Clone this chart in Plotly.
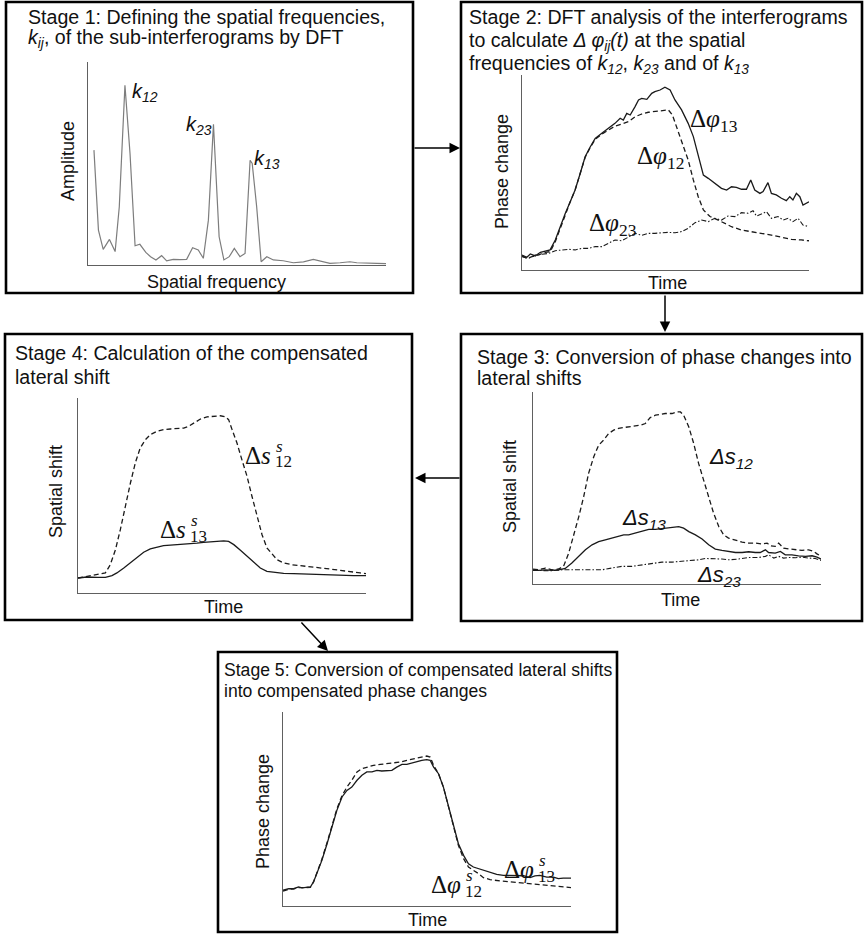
import plotly.graph_objects as go

W, H = 864, 934


def X(p):
    return p / W


def Y(p):
    return 1 - p / H


# ---------------- data ----------------
# Stage 1: DFT amplitude spectrum
freq = [2.0, 3.5, 5.1, 7.2, 9.1, 10.5, 12.4, 14.1, 15.8, 17.4, 19.4, 21.0, 22.8, 24.7, 26.4,
        28.6, 30.9, 33.1, 35.1, 37.0, 38.7, 40.4, 42.1, 44.0, 45.6, 47.4, 49.1, 51.0, 52.7,
        54.4, 55.1, 56.6, 58.1, 60.0, 62.2, 65.5, 68.9, 72.3, 75.6, 77.9, 81.2, 84.6, 87.9,
        90.2, 93.5, 96.9, 100.0]
amplitude = [56.6, 17.2, 7.7, 12.6, 6.6, 28.7, 88.5, 54.9, 9.5, 10.2, 6.2, 4.1, 2.5, 4.6, 2.0,
             2.8, 2.6, 2.8, 8.5, 7.4, 3.3, 22.1, 69.3, 13.9, 2.5, 4.1, 8.2, 4.1, 5.7,
             51.6, 50.0, 28.7, 1.6, 4.1, 2.5, 2.1, 1.1, 1.5, 2.8, 2.0, 0.8, 1.1, 1.6,
             1.1, 1.1, 0.8, 0.7]

# Stage 2: phase changes
t2_13 = [0, 1.7, 2.9, 4.6, 6.4, 8.1, 9.8, 11.6, 13.3, 15.1, 16.8, 18.5, 20.3, 22.0, 23.8, 25.5,
         27.8, 30.1, 32.4, 34.2, 35.3, 36.5, 37.7, 39.4, 40.6, 41.7, 43.5, 45.2, 46.3, 48.1,
         49.8, 51.6, 53.3, 55.6, 57.9, 59.7, 61.4, 63.2, 64.9, 67.2, 69.5, 71.3, 73.0, 74.7,
         76.5, 78.2, 79.7, 81.1, 82.9, 84.0, 85.7, 86.9, 88.6, 90.4, 92.1, 93.3, 94.4, 95.6,
         96.8, 97.9, 99.1, 100]
phi13 = [7.7, 6.5, 8.2, 7.2, 9.1, 9.9, 10.3, 15.4, 22.2, 29.1, 35.0, 41.0, 49.6, 58.1, 63.2, 67.5,
         70.1, 72.6, 75.2, 77.8, 76.9, 80.3, 79.5, 83.8, 87.2, 88.0, 87.5, 90.6, 91.5, 92.3,
         93.7, 92.3, 87.2, 82.1, 75.2, 68.4, 58.1, 48.7, 47.0, 44.4, 41.9, 41.0, 42.7, 42.4,
         41.4, 41.4, 46.2, 41.0, 39.3, 40.2, 44.8, 39.3, 38.5, 36.8, 35.6, 37.6, 35.9, 39.3,
         37.6, 33.3, 34.2, 35.0]
t2_12 = [0, 1.7, 3.5, 5.8, 8.1, 9.8, 11.6, 13.3, 15.1, 16.8, 18.5, 20.3, 22.0, 23.8, 25.5, 27.8,
         30.1, 32.4, 34.8, 37.1, 39.4, 41.7, 44.0, 46.3, 48.7, 51.0, 52.4, 53.9, 55.6, 57.9,
         59.7, 61.4, 63.2, 65.5, 67.8, 69.5, 73.0, 76.5, 80.0, 83.4, 86.9, 90.4, 93.9, 97.3, 100]
phi12 = [7.2, 6.0, 6.8, 7.7, 9.1, 9.4, 14.5, 21.4, 28.2, 35.0, 41.0, 49.6, 57.8, 62.9, 67.0, 69.7,
         71.8, 73.8, 74.9, 76.1, 78.6, 80.0, 80.9, 81.4, 81.9, 82.1, 79.5, 73.5, 66.7, 56.4,
         46.2, 37.6, 30.8, 27.4, 26.0, 24.8, 22.2, 20.5, 19.7, 18.8, 17.9, 16.8, 15.7, 15.4, 15.0]
t2_23 = [0, 2.3, 4.6, 7.0, 9.3, 11.6, 13.9, 16.2, 18.5, 20.9, 23.2, 25.5, 27.8, 30.1, 32.4, 34.8,
         37.1, 39.4, 41.7, 44.0, 46.3, 48.7, 51.0, 53.3, 55.6, 57.9, 60.3, 62.6, 64.9, 67.2,
         69.5, 71.8, 74.2, 76.5, 78.8, 80.5, 81.7, 83.4, 85.2, 86.9, 89.2, 91.0, 92.7, 94.4,
         96.2, 97.9, 100]
phi23 = [6.8, 6.0, 7.7, 8.2, 8.5, 9.9, 10.3, 10.6, 10.3, 11.1, 11.1, 12.0, 12.0, 13.7, 15.4, 15.0,
         17.1, 18.8, 17.8, 18.8, 18.8, 19.1, 19.3, 19.1, 19.7, 21.4, 24.3, 25.6, 24.8, 26.5,
         25.6, 27.7, 27.4, 29.4, 29.1, 30.4, 27.7, 28.7, 29.9, 26.5, 27.4, 25.6, 26.5, 24.8,
         26.5, 23.1, 22.2]

# Stage 3: lateral shifts
t3_12 = [0, 2.0, 4.3, 6.6, 8.9, 10.6, 12.4, 14.1, 15.9, 17.6, 19.3, 21.1, 22.8, 24.5, 26.3, 28.0,
         29.7, 31.5, 33.2, 35.5, 37.3, 39.0, 40.7, 42.5, 44.2, 45.9, 48.3, 50.0, 51.2, 52.3,
         54.1, 55.8, 57.5, 59.3, 61.0, 62.7, 64.5, 66.2, 67.9, 70.3, 72.6, 74.9, 77.2, 79.5,
         81.3, 82.4, 84.1, 85.3, 87.0, 88.8, 91.1, 93.4, 95.7, 97.5, 98.6, 100]
s12 = [7.8, 7.4, 8.3, 7.4, 7.8, 9.2, 16.1, 24.7, 35.1, 45.5, 57.6, 66.3, 72.3, 74.9, 78.4, 80.1,
       81.0, 81.5, 81.8, 82.2, 82.7, 83.6, 86.7, 87.9, 88.4, 88.8, 88.8, 89.6, 89.6, 87.9,
       81.8, 73.2, 62.8, 54.2, 45.5, 36.9, 29.9, 25.6, 23.9, 22.7, 21.8, 21.3, 21.3, 20.8,
       21.3, 19.9, 19.6, 21.3, 18.7, 18.3, 17.8, 17.5, 17.8, 17.0, 15.7, 14.4]
t3_13 = [0, 2.0, 4.3, 6.6, 8.9, 11.2, 13.5, 15.9, 18.2, 20.5, 22.8, 25.1, 27.4, 29.7, 31.5, 33.2,
         35.5, 37.8, 40.2, 42.5, 44.8, 47.1, 49.4, 50.6, 52.3, 54.1, 56.4, 58.7, 61.0, 63.3,
         65.6, 67.9, 70.3, 72.6, 74.9, 77.2, 78.9, 80.7, 81.8, 84.1, 85.9, 87.6, 89.9, 92.2,
         94.6, 96.9, 98.6, 100]
s13 = [7.4, 7.1, 7.4, 7.1, 7.4, 8.1, 10.9, 14.4, 17.8, 20.4, 22.1, 23.0, 23.9, 24.7, 25.6, 25.6,
       26.5, 27.3, 28.5, 28.5, 28.9, 29.4, 29.9, 29.9, 29.1, 27.3, 25.6, 23.4, 20.4, 18.2,
       17.5, 17.0, 16.4, 16.4, 16.8, 16.4, 16.4, 17.8, 16.4, 16.1, 17.0, 15.2, 15.2, 14.7,
       14.4, 14.7, 14.0, 13.0]
t3_23 = [0, 3.1, 6.6, 10.1, 13.5, 17.0, 20.5, 24.0, 27.4, 30.9, 34.4, 37.8, 41.3, 44.8, 48.3,
         51.7, 55.2, 57.5, 59.8, 63.3, 65.6, 67.9, 71.4, 74.9, 78.4, 80.7, 81.8, 83.6, 85.3,
         87.0, 88.8, 91.1, 93.4, 95.7, 98.0, 100]
s23 = [7.1, 7.1, 6.9, 7.4, 7.4, 7.1, 7.1, 7.4, 8.3, 9.2, 9.2, 10.0, 10.9, 11.4, 11.4,
       11.8, 12.1, 12.6, 13.3, 13.3, 13.0, 12.6, 13.0, 13.8, 13.8, 14.4, 15.2, 13.5, 14.4,
       13.5, 13.8, 13.7, 14.0, 13.5, 13.3, 12.3]

# Stage 4: compensated lateral shifts
t4_12 = [0, 3.1, 6.6, 9.5, 11.2, 13.0, 14.7, 16.4, 18.2, 19.9, 21.6, 23.4, 25.1, 27.4, 29.7,
         32.1, 34.4, 36.7, 38.4, 40.2, 42.5, 44.8, 47.1, 49.4, 51.2, 52.3, 53.5, 55.2, 56.9,
         58.7, 60.4, 62.2, 63.9, 65.6, 67.4, 69.1, 71.4, 74.3, 77.2, 80.7, 84.1, 87.6, 91.1,
         94.6, 98.0, 100]
ss12 = [7.7, 8.5, 9.4, 10.3, 14.5, 22.2, 32.5, 44.4, 56.4, 66.7, 74.4, 78.6, 81.2, 82.9, 83.8,
        84.1, 84.4, 84.6, 85.5, 87.2, 89.2, 90.3, 90.6, 90.9, 90.3, 88.9, 83.8, 76.9, 68.4,
        59.8, 49.6, 39.3, 29.9, 23.1, 19.7, 17.1, 15.4, 14.5, 14.0, 13.3, 12.8, 12.3, 11.6,
        11.1, 10.3, 9.9]
t4_13 = [0, 3.1, 6.6, 9.5, 11.8, 13.5, 15.9, 18.2, 20.5, 22.8, 25.1, 27.4, 29.7, 32.1, 34.4,
         36.7, 39.0, 41.3, 43.6, 45.9, 48.3, 50.6, 52.3, 54.1, 56.4, 58.7, 61.0, 63.3, 65.6,
         67.9, 71.4, 74.9, 78.4, 81.8, 85.3, 88.8, 92.2, 95.7, 100]
ss13 = [7.7, 8.2, 8.0, 8.0, 8.9, 10.3, 12.8, 15.4, 17.9, 20.9, 22.6, 23.6, 24.3, 24.6, 24.8,
        25.0, 25.1, 25.6, 26.0, 26.3, 26.5, 26.7, 26.5, 24.8, 21.9, 18.8, 15.4, 12.8, 11.1,
        10.6, 10.1, 9.9, 9.7, 9.7, 9.4, 9.2, 9.1, 8.9, 8.9]

# Stage 5: compensated phase changes
t5_13 = [0, 2.0, 3.7, 5.4, 6.6, 8.3, 9.5, 10.6, 11.8, 13.5, 15.3, 17.0, 18.7, 20.5, 22.2, 23.9,
         25.7, 27.4, 29.1, 30.9, 32.6, 34.3, 36.1, 37.8, 39.5, 41.3, 43.0, 44.7, 46.5, 48.2,
         49.9, 51.1, 52.3, 54.0, 55.7, 57.5, 59.2, 60.9, 62.7, 64.4, 66.1, 67.9, 69.6, 71.9,
         74.2, 76.5, 78.8, 81.2, 83.5, 85.8, 87.5, 89.2, 91.6, 93.9, 95.6, 97.3, 100]
ps13 = [8.1, 8.9, 8.9, 9.8, 9.3, 9.8, 9.8, 12.4, 16.7, 23.5, 32.1, 40.7, 49.3, 56.2, 59.6, 61.3,
        64.8, 67.4, 69.1, 69.1, 69.9, 69.6, 69.9, 69.9, 71.6, 73.0, 73.0, 73.7, 74.6, 75.1,
        75.4, 75.1, 71.6, 68.2, 61.3, 51.0, 40.7, 32.1, 26.1, 21.8, 20.1, 19.2, 18.4, 17.5,
        16.3, 15.8, 15.8, 15.6, 15.6, 14.6, 15.5, 15.8, 14.9, 14.9, 14.1, 14.4, 14.4]
t5_12 = [0, 2.0, 3.7, 5.4, 7.2, 9.5, 10.6, 11.8, 13.5, 15.3, 17.0, 18.7, 20.5, 22.2, 23.9, 25.7,
         27.4, 29.1, 31.4, 33.8, 36.1, 38.4, 40.7, 43.0, 45.3, 47.6, 49.9, 51.1, 52.3, 54.0,
         55.7, 57.5, 59.2, 60.9, 62.7, 64.4, 66.1, 67.9, 69.6, 71.9, 75.4, 78.8, 82.3, 85.8,
         89.2, 92.7, 96.2, 100]
ps12 = [7.7, 8.6, 8.8, 9.5, 9.5, 9.6, 12.4, 17.0, 24.1, 32.6, 41.4, 50.0, 56.9, 61.3, 64.8, 69.1,
        70.8, 71.6, 72.5, 73.0, 73.4, 73.7, 74.2, 75.1, 75.9, 76.8, 77.3, 76.8, 72.5, 68.2,
        61.3, 51.0, 40.7, 31.3, 24.4, 20.1, 18.4, 16.7, 14.6, 13.6, 12.9, 12.4, 11.9, 11.5,
        11.2, 10.7, 10.1, 9.5]

titles = {
    1: ["Stage 1: Defining the spatial frequencies,",
        "<i>k<sub>ij</sub></i>, of the sub-interferograms by DFT"],
    2: ["Stage 2: DFT analysis of the interferograms",
        "to calculate <i>Δ φ<sub>ij</sub>(t)</i> at the spatial",
        "frequencies of <i>k<sub>12</sub></i>, <i>k<sub>23</sub></i> and of <i>k<sub>13</sub></i>"],
    3: ["Stage 3: Conversion of phase changes into", "lateral shifts"],
    4: ["Stage 4: Calculation of the compensated", "lateral shift"],
    5: ["Stage 5: Conversion of compensated lateral shifts", "into compensated phase changes"],
}
y_titles = {1: "Amplitude", 2: "Phase change", 3: "Spatial shift", 4: "Spatial shift", 5: "Phase change"}
x_titles = {1: "Spatial frequency", 2: "Time", 3: "Time", 4: "Time", 5: "Time"}

# ---------------- layout geometry (pixels) ----------------
plots = {1: (88, 386, 62, 265), 2: (522, 809, 75, 270), 3: (533, 821, 392, 584),
         4: (78, 366, 398, 593), 5: (283, 571, 712, 906)}
boxes = {1: (6, 413, 2, 293), 2: (461, 862, 2, 293), 3: (461, 862, 334, 621),
         4: (5, 412, 334, 620), 5: (218, 617, 652, 932)}

SANS = "Liberation Sans, Arial, sans-serif"
SERIF = "Liberation Serif, Times New Roman, serif"
INK = "#111111"

fig = go.Figure()

axstyle = dict(showline=True, linecolor="#606060", linewidth=1, showgrid=False, zeroline=False,
               showticklabels=False, ticks="", fixedrange=True)
lay = {}
for i, (x0, x1, y0, y1) in plots.items():
    s = "" if i == 1 else str(i)
    lay["xaxis" + s] = dict(domain=[X(x0), X(x1)], range=[0, 100], anchor="y" + s, **axstyle)
    lay["yaxis" + s] = dict(domain=[Y(y1), Y(y0)], range=[0, 100], anchor="x" + s, **axstyle)


def add(x, y, ax, dash="solid", color="#1a1a1a", width=1.3):
    s = "" if ax == 1 else str(ax)
    fig.add_trace(go.Scatter(x=x, y=y, mode="lines", xaxis="x" + s, yaxis="y" + s,
                             line=dict(color=color, width=width, dash=dash),
                             hoverinfo="skip", showlegend=False))


DASH = "5px,3px"
DASHDOT = "5px,2px,1.5px,2px"

add(freq, amplitude, 1, color="#7d7d7d", width=1.2)
add(t2_12, phi12, 2, dash=DASH)
add(t2_23, phi23, 2, dash=DASHDOT, width=1.1)
add(t2_13, phi13, 2)
add(t3_12, s12, 3, dash=DASH)
add(t3_23, s23, 3, dash=DASHDOT, width=1.1)
add(t3_13, s13, 3)
add(t4_12, ss12, 4, dash=DASH)
add(t4_13, ss13, 4)
add(t5_12, ps12, 5, dash=DASH)
add(t5_13, ps13, 5)

ann = []


def txt(x, y, s, size=20, xanchor="left", family=SANS, angle=0, yanchor="middle"):
    ann.append(dict(x=X(x), y=Y(y), xref="paper", yref="paper", text=s, showarrow=False,
                    xanchor=xanchor, yanchor=yanchor, textangle=angle,
                    font=dict(family=family, size=size, color=INK)))


# titles
title_pos = {1: (26, [17, 39], 19.6), 2: (467, [17, 41, 65], 19.6), 3: (475, [357, 378], 19.6),
             4: (13, [353, 377], 19.6), 5: (222, [670, 691], 17.6)}
for i, lines in titles.items():
    x0, ys, fs = title_pos[i]
    for line, yy in zip(lines, ys):
        txt(x0, yy, line, size=fs)

# axis titles
ylab_pos = {1: (68, 161), 2: (502, 172), 3: (510, 487), 4: (56, 492), 5: (263, 812)}
xlab_pos = {1: (217, 282), 2: (667, 283), 3: (680, 600), 4: (223, 607), 5: (427, 920)}
for i in plots:
    txt(*ylab_pos[i], y_titles[i], size=18, xanchor="center", angle=-90)
    txt(*xlab_pos[i], x_titles[i], size=18, xanchor="center")

# curve labels
txt(130, 93, "<i>k<sub>12</sub></i>", size=20)
txt(184, 125, "<i>k<sub>23</sub></i>", size=20)
txt(252, 160, "<i>k<sub>13</sub></i>", size=20)

txt(688, 121, "Δ<i>φ</i><sub>13</sub>", size=25, family=SERIF)
txt(635, 158, "Δ<i>φ</i><sub>12</sub>", size=25, family=SERIF)
txt(587, 224, "Δ<i>φ</i><sub>23</sub>", size=25, family=SERIF)

txt(707, 458, "<i>Δs<sub>12</sub></i>", size=22)
txt(620, 519, "<i>Δs<sub>13</sub></i>", size=22)
txt(695, 576, "<i>Δs<sub>23</sub></i>", size=22)


def stacked(xm, ym, main, sub, size=25):
    txt(xm, ym, main, size=size, xanchor="right", family=SERIF)
    txt(xm + 1, ym - 9, "<i>s</i>", size=int(size * 0.68), family=SERIF)
    txt(xm, ym + 7, sub, size=int(size * 0.68), family=SERIF)


stacked(273, 455, "Δ<i>s</i>", "12")
stacked(188, 529, "Δ<i>s</i>", "13")
stacked(463, 884, "Δ<i>φ</i>", "12")
stacked(536, 869, "Δ<i>φ</i>", "13")


# arrows between stages
def arrow(xh, yh, xt, yt):
    ann.append(dict(x=X(xh), y=Y(yh), xref="paper", yref="paper", ax=xt - xh, ay=yt - yh,
                    axref="pixel", ayref="pixel", text="", showarrow=True, arrowhead=2,
                    arrowsize=1.4, arrowwidth=1.5, arrowcolor="#000000"))


arrow(460, 148, 413, 148)
arrow(665, 332, 665, 294)
arrow(415, 478, 461, 478)
arrow(328, 651, 300, 621)

shapes = []
for (x0, x1, y0, y1) in boxes.values():
    shapes.append(dict(type="rect", xref="paper", yref="paper", x0=X(x0), x1=X(x1),
                       y0=Y(y1), y1=Y(y0), line=dict(color="#000000", width=2.6)))

fig.update_layout(width=W, height=H, margin=dict(l=0, r=0, t=0, b=0),
                  paper_bgcolor="white", plot_bgcolor="white", showlegend=False,
                  annotations=ann, shapes=shapes, **lay)

fig.write_html("out.html")
